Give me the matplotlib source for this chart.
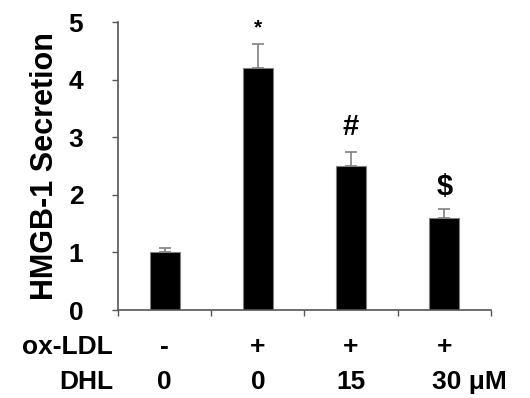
import matplotlib
matplotlib.use('Agg')
import matplotlib.pyplot as plt
import matplotlib.transforms as mtransforms

plt.rcParams['font.family'] = ['Liberation Sans', 'DejaVu Sans']
plt.rcParams['font.weight'] = 'bold'

# 数据
groups = ['ctrl', 'ox-LDL', 'ox-LDL+DHL15', 'ox-LDL+DHL30']
values = [1.0, 4.2, 2.5, 1.6]
errors = [0.07, 0.41, 0.24, 0.15]
marks = ['', '*', '#', '$']
oxldl_row = ['-', '+', '+', '+']
dhl_row = ['0', '0', '15', '30 μM']
yticks = [0, 1, 2, 3, 4, 5]

fig = plt.figure(figsize=(5.30, 3.98), dpi=100)
ax = fig.add_axes([0.2226, 0.2211, 0.7038, 0.7236])

x = list(range(len(groups)))
ax.bar(x, values, width=0.32, color='black', edgecolor='#808080', linewidth=0.8, zorder=2)
ax.errorbar(x, values, yerr=[[0] * len(errors), errors], fmt='none',
            ecolor='#808080', elinewidth=1.2, capsize=4, capthick=1.2, zorder=1)

mark_size = {'*': 15, '#': 21, '$': 21}
mark_off = {'*': 0.29, '#': 0.44, '$': 0.38}
for i, m in enumerate(marks):
    if m:
        ax.text(i, values[i] + errors[i] + mark_off[m], m, ha='center', va='center',
                fontsize=mark_size[m], fontweight='bold')

ax.set_xlim(-0.5, 3.5)
ax.set_ylim(0, 5)
ax.set_yticks(yticks)
ax.set_yticklabels([str(t) for t in yticks], fontsize=19, fontweight='bold')
ax.set_xticks([-0.5, 0.5, 1.5, 2.5, 3.5])
ax.set_xticklabels([])
ax.tick_params(axis='both', direction='out', length=4, width=1, color='#555555')
ax.tick_params(axis='y', pad=21)
for s in ['top', 'right']:
    ax.spines[s].set_visible(False)
for s in ['left', 'bottom']:
    ax.spines[s].set_color('#555555')
    ax.spines[s].set_linewidth(1.2)

ax.set_ylabel('HMGB-1 Secretion', fontsize=22, fontweight='bold', labelpad=6)

# 底部表格
trans = mtransforms.blended_transform_factory(ax.transData, fig.transFigure)
fig.text(113 / 530, 1 - 347 / 398, 'ox-LDL', ha='right', va='center', fontsize=19, fontweight='bold')
fig.text(113 / 530, 1 - 382 / 398, 'DHL', ha='right', va='center', fontsize=19, fontweight='bold')
for i in x:
    ax.text(i, 1 - 347 / 398, oxldl_row[i], transform=trans, ha='center', va='center',
            fontsize=19, fontweight='bold', clip_on=False)
    if i == 3:
        ax.text(i - 0.13, 1 - 382 / 398, dhl_row[i], transform=trans, ha='left', va='center',
                fontsize=19, fontweight='bold', clip_on=False)
    else:
        ax.text(i, 1 - 382 / 398, dhl_row[i], transform=trans, ha='center', va='center',
                fontsize=19, fontweight='bold', clip_on=False)

plt.savefig('out.png', dpi=100)
